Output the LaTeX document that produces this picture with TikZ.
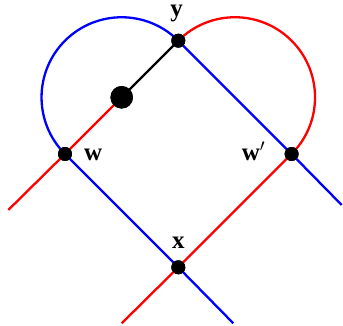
\documentclass[tikz,border=0pt]{standalone}
\usepackage{fontspec}
\setmainfont{Liberation Serif}
\begin{document}
\begin{tikzpicture}[x=1pt,y=1pt,
  dot/.style={circle,fill=black,inner sep=0pt,minimum size=14pt},
  bigdot/.style={circle,fill=black,inner sep=0pt,minimum size=22.5pt},
  redline/.style={draw=red,line width=2.3pt},
  blueline/.style={draw=blue,line width=2.3pt},
  blackline/.style={draw=black,line width=2.3pt},
  lab/.style={inner sep=0pt,font=\fontsize{25}{30}\selectfont\bfseries}]
\useasboundingbox (0,0) rectangle (343,326);
\coordinate (rs) at (8.3,116);
\coordinate (be) at (341.7,121);
\coordinate (rb) at (121.7,2.7);
\coordinate (bb) at (233.3,2.7);
\node[dot] (y) at (178.3,285.3) {};
\node[dot] (w) at (65,172) {};
\node[dot] (wp) at (291.6,172) {};
\node[dot] (x) at (178.3,58.7) {};
\node[bigdot] (c) at (121.7,228.7) {};
% arcs
\draw[blueline] (w.center) arc[start angle=225,end angle=45,radius=80.1];
\draw[redline] (y.center) arc[start angle=135,end angle=-45,radius=80.1];
% lines
\draw[redline] (rs) -- (w.center) -- (c.center);
\draw[blackline] (c.center) -- (y.center);
\draw[blueline] (y.center) -- (wp.center) -- (be);
\draw[blueline] (w.center) -- (x.center) -- (bb);
\draw[redline] (wp.center) -- (x.center) -- (rb);
% dots on top
\node[dot] at (y) {};
\node[dot] at (w) {};
\node[dot] at (wp) {};
\node[dot] at (x) {};
\node[bigdot] at (c) {};
% labels
\node[lab,anchor=base] (ly) at (176.5,309.5) {$\mathbf{y}$};
\node[lab,anchor=base west] (lw) at (84,165.3) {$\mathbf{w}$};
\node[lab,anchor=base west] (lwp) at (241.7,165.3) {$\mathbf{w}'$};
\node[lab,anchor=base] (lx) at (178.3,77.7) {$\mathbf{x}$};
\end{tikzpicture}
\end{document}
